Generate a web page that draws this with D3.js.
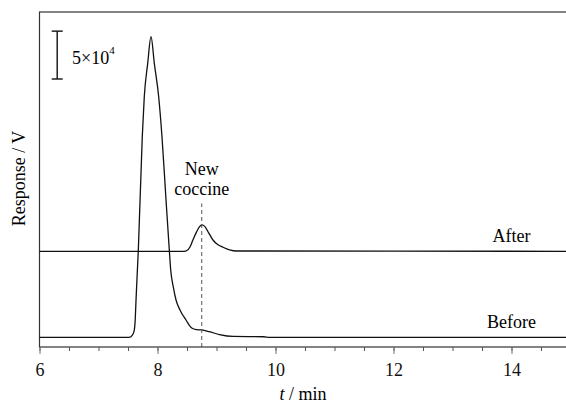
<!DOCTYPE html>
<html>
<head>
<meta charset="utf-8">
<script src="https://cdn.jsdelivr.net/npm/d3@7"></script>
<style>
  body { margin: 0; background: #fff; }
  svg { display: block; }
</style>
</head>
<body>
<div id="d3-container"></div>
<script>
// retention time (min) and response (x10^4)
const beforeT = [6.0, 7.50, 7.53, 7.555, 7.585, 7.607, 7.62, 7.636, 7.655, 7.675, 7.742, 7.776, 7.834, 7.890, 7.946, 8.020, 8.076, 8.14, 8.200, 8.224, 8.27, 8.314, 8.381, 8.483, 8.580, 8.66, 8.749, 8.878, 9.05, 9.28, 9.80, 9.90, 15.0]
const beforeV = [0, 0, 0.02, 0.1, 0.35, 0.78, 1.6, 3.9, 6.5, 9.13, 20.97, 25.15, 28.64, 31.42, 28.64, 25.15, 20.97, 14.8, 9.13, 7.04, 5.2, 3.91, 2.87, 1.82, 0.99, 0.82, 0.78, 0.6, 0.3, 0.1, 0.07, 0, 0]

const afterT = [6.0, 8.45, 8.50, 8.55, 8.60, 8.66, 8.71, 8.755, 8.80, 8.87, 8.94, 9.02, 9.11, 9.22, 9.34, 15.0]
const afterV = [0, 0, 0.08, 0.45, 1.18, 2.0, 2.55, 2.75, 2.6, 1.9, 1.18, 0.7, 0.42, 0.15, 0.03, 0]
const afterOffset = 9.0

const xTicks = [6, 8, 10, 12, 14]
const peakT = 8.75
const scaleBar = [27, 32]

const width = 566;
const height = 404;
const margin = {top: 12, bottom: 57, left: 39.5, right: -4.5}
const serif = '"Liberation Serif", "Times New Roman", serif'

const svg = d3.select('#d3-container')
  .append('svg')
  .attr('width', width)
  .attr('height', height)

const x = d3.scaleLinear()
  .domain([6, 15])
  .range([margin.left, width - margin.right])

const y = d3.scaleLinear()
  .domain([-1, 34])
  .range([height - margin.bottom, margin.top])

// frame
svg.append('rect')
  .attr('x', x(6))
  .attr('y', y(34))
  .attr('width', x(15) - x(6))
  .attr('height', y(-1) - y(34))
  .attr('fill', 'none')
  .attr('stroke', '#333')
  .attr('stroke-width', 1.2)

// x axis with minor ticks
function xAxis(g) {
  g.attr('transform', `translate(0, ${y(-1)})`)
  g.call(d3.axisBottom(x).tickValues(d3.range(6, 15.01, 0.5)).tickSize(4).tickFormat(''))
  g.call(g => g.select('.domain').remove())
  g.selectAll('.tick line').attr('stroke', '#555')
}
function xAxisMajor(g) {
  g.attr('transform', `translate(0, ${y(-1)})`)
  g.call(d3.axisBottom(x).tickValues(xTicks).tickSize(7).tickPadding(9))
  g.call(g => g.select('.domain').remove())
  g.selectAll('.tick line').attr('stroke', '#777')
  g.selectAll('.tick text')
    .attr('fill', '#111')
    .style('font-family', serif)
    .style('font-size', '18px')
}
svg.append('g').call(xAxis)
svg.append('g').call(xAxisMajor)

const line = d3.line()
  .x(d => x(d[0]))
  .y(d => y(d[1]))
  .curve(d3.curveMonotoneX)

const before = beforeT.map((t, i) => [t, beforeV[i]])
const after = afterT.map((t, i) => [t, afterV[i] + afterOffset])

svg.append('g')
  .selectAll('path')
  .data([before, after])
  .join('path')
    .attr('d', line)
    .attr('fill', 'none')
    .attr('stroke', '#111')
    .attr('stroke-width', 1.3)

// dashed marker at new coccine
svg.append('line')
  .attr('x1', x(peakT)).attr('x2', x(peakT))
  .attr('y1', y(-1)).attr('y2', y(14))
  .attr('stroke', '#555')
  .attr('stroke-dasharray', '4,3')
  .attr('stroke-width', 1)

function label(xp, yp, txt) {
  return svg.append('text')
    .attr('x', xp).attr('y', yp)
    .attr('text-anchor', 'middle')
    .style('font-family', serif)
    .style('font-size', '18px')
    .text(txt)
}
label(x(peakT), 175, 'New')
label(x(peakT), 194.5, 'coccine')

// trace labels
label(x(14), y(afterOffset) - 9, 'After')
label(x(14), y(0) - 9.3, 'Before')

// scale bar
const sb = svg.append('g').attr('stroke', '#111').attr('stroke-width', 1.4)
sb.append('line')
  .attr('x1', x(6.3)).attr('x2', x(6.3))
  .attr('y1', y(scaleBar[0])).attr('y2', y(scaleBar[1]))
scaleBar.forEach(v => {
  sb.append('line')
    .attr('x1', x(6.3) - 5.5).attr('x2', x(6.3) + 5.5)
    .attr('y1', y(v)).attr('y2', y(v))
})
const sbText = svg.append('text')
  .attr('x', 72).attr('y', 63.5)
  .style('font-family', serif)
  .style('font-size', '18px')
sbText.append('tspan').text('5×10')
sbText.append('tspan')
  .attr('dy', -10)
  .style('font-size', '11px')
  .text('4')

// axis titles
const xt = svg.append('text')
  .attr('x', 303).attr('y', 400)
  .attr('text-anchor', 'middle')
  .style('font-family', serif)
  .style('font-size', '18px')
xt.append('tspan').attr('font-style', 'italic').text('t')
xt.append('tspan').text(' / min')

svg.append('text')
  .attr('transform', 'translate(25, 178.5) rotate(-90)')
  .attr('text-anchor', 'middle')
  .style('font-family', serif)
  .style('font-size', '18px')
  .text('Response / V')
</script>
</body>
</html>
